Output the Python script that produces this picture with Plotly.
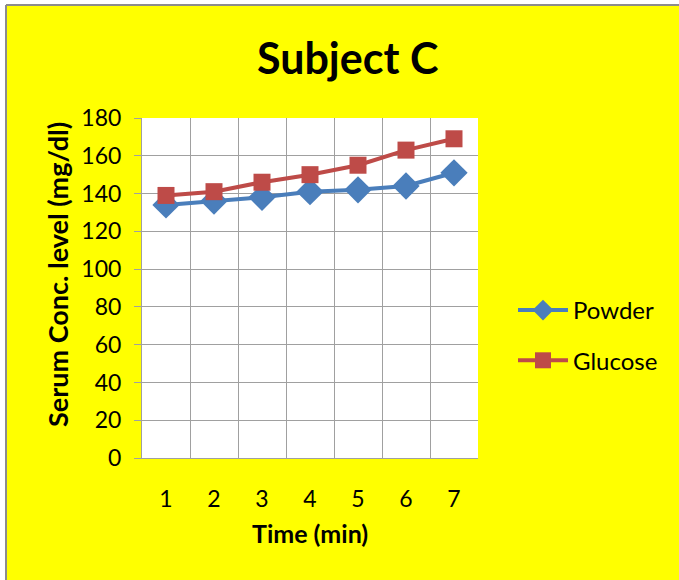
import plotly.graph_objects as go

time_labels = ["1", "2", "3", "4", "5", "6", "7"]
time_pos = [1, 2, 3, 4, 5, 6, 7]
powder = [134, 136, 138, 141, 142, 144, 151]
glucose = [139, 141, 146, 150, 155, 163, 169]
y_ticks = [0, 20, 40, 60, 80, 100, 120, 140, 160, 180]

W, H = 679, 580
L, R, T, B = 142, 478, 118, 458
pw, ph = R - L, B - T

def px(x):
    return (x - L) / pw

def py(y):
    return (B - y) / ph

FONT = "Lato, Calibri, 'Open Sans', sans-serif"
GRID = "#a0a0a0"
BORDER = "#8c8c8c"

fig = go.Figure()
fig.add_trace(go.Scatter(
    x=time_pos, y=powder, name="Powder", mode="lines+markers",
    line=dict(color="#4A7EBB", width=4),
    marker=dict(symbol="diamond", size=21, color="#4A7EBB"),
    legendgroup="a",
))
fig.add_trace(go.Scatter(
    x=time_pos, y=glucose, name="Glucose", mode="lines+markers",
    line=dict(color="#BE4B48", width=4),
    marker=dict(symbol="square", size=17, color="#BE4B48"),
    legendgroup="b",
))

fig.update_layout(
    width=W, height=H,
    margin=dict(l=L, r=W - R, t=T, b=H - B, pad=0),
    paper_bgcolor="#FFFF00",
    plot_bgcolor="white",
    font=dict(family=FONT, color="#000000", size=18),
    showlegend=True,
    legend=dict(
        x=px(513), y=py(288), xanchor="left", yanchor="top",
        bgcolor="rgba(0,0,0,0)", font=dict(size=24, family=FONT),
        itemwidth=50, tracegroupgap=16, traceorder="grouped",
    ),
    xaxis=dict(
        range=[0.5, 7.5], tickvals=time_pos, ticktext=time_labels,
        showgrid=False, ticks="", showline=True, linecolor=GRID, linewidth=1,
        ticklabelstandoff=20, tickfont=dict(size=23),
        zeroline=False,
        minor=dict(tickvals=[1.5, 2.5, 3.5, 4.5, 5.5, 6.5, 7.5], showgrid=True,
                   gridcolor=GRID, gridwidth=1, ticks=""),
    ),
    yaxis=dict(
        range=[0, 180], tickvals=y_ticks, showgrid=True, gridcolor=GRID, gridwidth=1,
        ticks="outside", ticklen=7, tickcolor=GRID, showline=True, linecolor=GRID,
        linewidth=1, ticklabelstandoff=8, tickfont=dict(size=23), zeroline=False,
    ),
    shapes=[
        # white strip above and left of the chart frame, plus its grey border
        dict(type="rect", xref="paper", yref="paper", layer="above",
             x0=px(-10), x1=px(700), y0=py(5), y1=py(-10),
             fillcolor="white", line=dict(width=0)),
        dict(type="rect", xref="paper", yref="paper", layer="above",
             x0=px(-10), x1=px(6), y0=py(600), y1=py(-10),
             fillcolor="white", line=dict(width=0)),
        dict(type="line", xref="paper", yref="paper", layer="above",
             x0=px(6), x1=px(700), y0=py(5), y1=py(5),
             line=dict(color=BORDER, width=2)),
        dict(type="line", xref="paper", yref="paper", layer="above",
             x0=px(6), x1=px(6), y0=py(5), y1=py(600),
             line=dict(color=BORDER, width=2)),
    ],
    annotations=[
        dict(text="<b>Subject C</b>", xref="paper", yref="paper",
             x=px(347), y=py(58), xanchor="center", yanchor="middle",
             showarrow=False, font=dict(size=43, family=FONT)),
        dict(text="<b>Serum Conc. level (mg/dl)</b>", xref="paper", yref="paper",
             x=px(57), y=py(275), xanchor="center", yanchor="middle", textangle=-90,
             showarrow=False, font=dict(size=27, family=FONT)),
        dict(text="<b>Time (min)</b>", xref="paper", yref="paper",
             x=px(310), y=py(533), xanchor="center", yanchor="middle",
             showarrow=False, font=dict(size=25, family=FONT)),
    ],
)

fig.write_html("out.html")
